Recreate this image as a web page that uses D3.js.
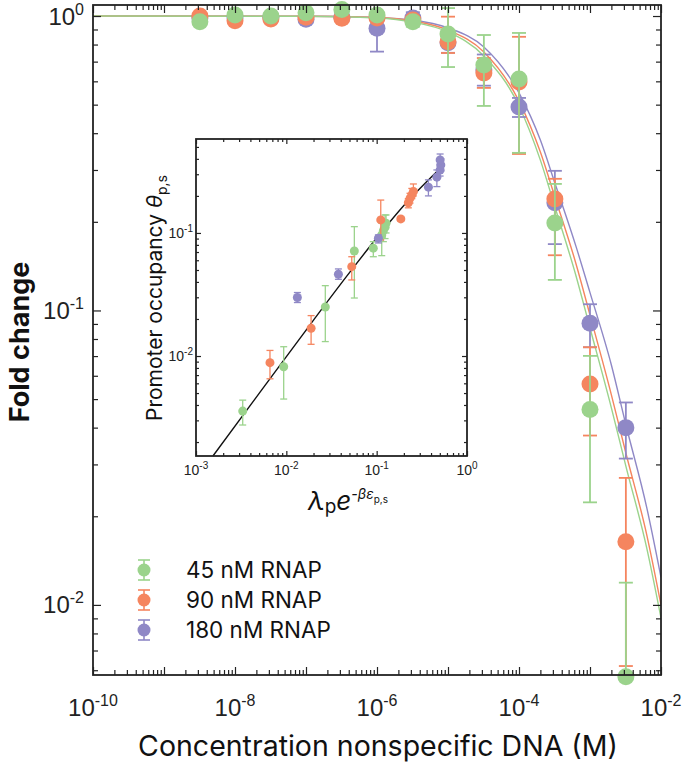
<!DOCTYPE html>
<html>
<head>
<meta charset="utf-8">
<script src="https://cdn.jsdelivr.net/npm/d3@7"></script>
<style>
body { margin: 0; background: #fff; }
svg { display: block; }
.tick line { stroke: #222; stroke-width: 1.2; }
</style>
</head>
<body>
<svg id="chart" width="683" height="766"></svg>
<script>
// ---------- data ----------
var series = ["45 nM RNAP", "90 nM RNAP", "180 nM RNAP"];
var colors = ["#9bd38c", "#f5855f", "#8f88c6"];

// nonspecific DNA concentration (M)
var concentrations = [3.2e-9, 1e-8, 3.2e-8, 1e-7, 3.2e-7, 1e-6, 3.2e-6, 1e-5, 3.2e-5, 1e-4, 3.2e-4, 1e-3, 3.2e-3];

var fold45 = [0.957, 1.008, 1.0, 1.026, 1.053, 1.008, 0.956, 0.869, 0.682, 0.611, 0.198, 0.0461, 0.0057];
var lo45 = [0.93, 0.98, 0.975, 1.0, 1.03, 0.98, 0.92, 0.671, 0.495, 0.343, 0.127, 0.0223, 0.0057];
var hi45 = [0.985, 1.035, 1.025, 1.05, 1.075, 1.035, 0.99, 1.064, 0.862, 0.876, 0.269, 0.0701, 0.0119];

var fold90 = [1.0, 0.964, 0.977, 0.99, 0.982, 0.985, 0.969, 0.818, 0.641, 0.597, 0.239, 0.0563, 0.0164];
var lo90 = [0.975, 0.94, 0.95, 0.965, 0.96, 0.96, 0.94, 0.749, 0.57, 0.34, 0.154, 0.0376, 0.0062];
var hi90 = [1.025, 0.99, 1.0, 1.015, 1.005, 1.01, 1.0, 0.995, 0.72, 0.85, 0.28, 0.075, 0.027];

var fold180 = [0.985, 0.985, 0.99, 0.975, 0.99, 0.908, 0.985, 0.812, 0.656, 0.491, 0.232, 0.0905, 0.0400];
var lo180 = [0.96, 0.96, 0.965, 0.95, 0.965, 0.757, 0.94, 0.75, 0.58, 0.454, 0.168, 0.075, 0.0314];
var hi180 = [1.01, 1.01, 1.015, 1.0, 1.015, 1.0, 1.03, 0.88, 0.74, 0.527, 0.298, 0.105, 0.0487];

// fitted curves, read at these concentrations
var fitConc = [1e-10, 1e-7, 1e-6, 3.2e-6, 1e-5, 3.2e-5, 1e-4, 2e-4, 3.2e-4, 6.3e-4, 1e-3, 2e-3, 3.2e-3, 6.3e-3, 1e-2];
var fit45 = [1.0, 0.998, 0.985, 0.954, 0.883, 0.732, 0.495, 0.324, 0.225, 0.132, 0.0872, 0.0467, 0.0296, 0.0156, 0.00904];
var fit90 = [1.0, 0.998, 0.988, 0.962, 0.896, 0.755, 0.514, 0.345, 0.243, 0.145, 0.0965, 0.0517, 0.0328, 0.0173, 0.0100];
var fit180 = [1.0, 0.998, 0.988, 0.969, 0.911, 0.785, 0.548, 0.379, 0.271, 0.166, 0.115, 0.0653, 0.0409, 0.0214, 0.0124];

// inset: [lambda_p e^-beta eps, occupancy, low, high]
var inset45 = [
    [0.00329, 0.00357, 0.00275, 0.00438],
    [0.00935, 0.00818, 0.00447, 0.0119],
    [0.0270, 0.0250, 0.0131, 0.0373],
    [0.0566, 0.0714, 0.0296, 0.1125],
    [0.0918, 0.0752, 0.0641, 0.085],
    [0.1138, 0.0963, 0.0654, 0.12],
    [0.1186, 0.1044, 0.085, 0.125],
    [0.1239, 0.111, 0.09, 0.14],
    [0.127, 0.12, 0.10, 0.14]
];
var inset90 = [
    [0.00659, 0.00883, 0.00653, 0.0111],
    [0.0188, 0.0168, 0.01245, 0.0213],
    [0.053, 0.0532, 0.0415, 0.0641],
    [0.111, 0.1276, 0.0877, 0.185],
    [0.185, 0.13, 0.125, 0.135],
    [0.224, 0.176, 0.16, 0.19],
    [0.234, 0.191, 0.175, 0.21],
    [0.245, 0.204, 0.19, 0.23],
    [0.255, 0.217, 0.20, 0.25]
];
var inset180 = [
    [0.01325, 0.0299, 0.0272, 0.0328],
    [0.0377, 0.0462, 0.042, 0.051],
    [0.1045, 0.0906, 0.0829, 0.0964],
    [0.374, 0.2355, 0.2, 0.27],
    [0.464, 0.284, 0.238, 0.325],
    [0.504, 0.325, 0.29, 0.36],
    [0.513, 0.357, 0.32, 0.40],
    [0.504, 0.392, 0.35, 0.438]
];
var theoryX = [0.00154, 0.005, 0.02, 0.05, 0.1, 0.2, 0.52];
var theoryY = [0.00154, 0.00497, 0.0196, 0.0476, 0.0909, 0.167, 0.342];

var mainXLabels = [1e-10, 1e-8, 1e-6, 1e-4, 1e-2];
var mainYLabels = [1, 0.1, 0.01];
var insetXLabels = [1e-3, 1e-2, 1e-1, 1];
var insetYLabels = [0.1, 0.01];

// ---------- setup ----------
var svg = d3.select("#chart");
var labelFont = "Inter, 'Noto Sans', sans-serif";
var tickFont = "'Liberation Sans', Arial, sans-serif";

var x = d3.scaleLog().domain([1e-10, 1e-2]).range([93, 661]);
var y = d3.scaleLog().domain([0.00578, 1.09]).range([675, 5]);

var ix = d3.scaleLog().domain([1e-3, 1]).range([196, 467]);
var iy = d3.scaleLog().domain([0.00154, 0.58]).range([456, 139]);

function isMajor(d) {
    var l = Math.log10(d);
    return Math.abs(l - Math.round(l)) < 1e-9;
}

// inward ticks on all four sides, minor + major
function frameTicks(g, xs, ys, minorLen, majorLen) {
    var xt = xs.ticks(), yt = ys.ticks();
    var sets = [
        [xt.filter(function(d) { return !isMajor(d); }), minorLen],
        [xt.filter(isMajor), majorLen]
    ];
    var ysets = [
        [yt.filter(function(d) { return !isMajor(d); }), minorLen],
        [yt.filter(isMajor), majorLen]
    ];
    var x0 = xs.range()[0], x1 = xs.range()[1], y0 = ys.range()[0], y1 = ys.range()[1];
    sets.forEach(function(s) {
        g.append("g").attr("transform", "translate(0," + y0 + ")")
            .call(d3.axisBottom(xs).tickValues(s[0]).tickSize(-s[1]).tickFormat(""))
            .call(function(a) { a.select(".domain").remove(); });
        g.append("g").attr("transform", "translate(0," + y1 + ")")
            .call(d3.axisTop(xs).tickValues(s[0]).tickSize(-s[1]).tickFormat(""))
            .call(function(a) { a.select(".domain").remove(); });
    });
    ysets.forEach(function(s) {
        g.append("g").attr("transform", "translate(" + x0 + ",0)")
            .call(d3.axisLeft(ys).tickValues(s[0]).tickSize(-s[1]).tickFormat(""))
            .call(function(a) { a.select(".domain").remove(); });
        g.append("g").attr("transform", "translate(" + x1 + ",0)")
            .call(d3.axisRight(ys).tickValues(s[0]).tickSize(-s[1]).tickFormat(""))
            .call(function(a) { a.select(".domain").remove(); });
    });
    g.append("rect")
        .attr("x", x0).attr("y", y1)
        .attr("width", x1 - x0).attr("height", y0 - y1)
        .attr("fill", "none")
        .attr("stroke", "#222")
        .attr("stroke-width", 1.8);
}

function powerLabel(sel, d, supSize, rise) {
    var e = Math.round(Math.log10(d));
    sel.append("tspan").text("10");
    sel.append("tspan")
        .attr("dy", -rise)
        .attr("font-size", supSize)
        .text(e === 0 ? "0" : "-" + Math.abs(e));
}

function errorPoints(g, data, xs, ys, color, r, cap, sw) {
    var grp = g.append("g");
    data.forEach(function(p) {
        grp.append("line")
            .attr("x1", xs(p[0])).attr("x2", xs(p[0]))
            .attr("y1", ys(p[2])).attr("y2", ys(p[3]))
            .attr("stroke", color).attr("stroke-width", sw);
        [p[2], p[3]].forEach(function(v) {
            grp.append("line")
                .attr("x1", xs(p[0]) - cap).attr("x2", xs(p[0]) + cap)
                .attr("y1", ys(v)).attr("y2", ys(v))
                .attr("stroke", color).attr("stroke-width", sw);
        });
    });
    grp.selectAll("circle")
        .data(data)
        .enter().append("circle")
        .attr("cx", function(p) { return xs(p[0]); })
        .attr("cy", function(p) { return ys(p[1]); })
        .attr("r", r)
        .attr("fill", color);
}

// ---------- main plot ----------
svg.append("defs").append("clipPath").attr("id", "plotclip")
    .append("rect").attr("x", 93).attr("y", 5).attr("width", 568).attr("height", 670);

var line = d3.line()
    .x(function(d) { return x(d[0]); })
    .y(function(d) { return y(d[1]); })
    .curve(d3.curveMonotoneX);

var fits = [fit45, fit90, fit180];
var curves = svg.append("g").attr("clip-path", "url(#plotclip)");
[2, 1, 0].forEach(function(i) {
    curves.append("path")
        .datum(fitConc.map(function(c, k) { return [c, fits[i][k]]; }))
        .attr("d", line)
        .attr("fill", "none")
        .attr("stroke", colors[i])
        .attr("stroke-width", 1.4);
});

var mainSets = [
    [fold45, lo45, hi45],
    [fold90, lo90, hi90],
    [fold180, lo180, hi180]
];
var pts = svg.append("g");
[2, 1, 0].forEach(function(i) {
    var s = mainSets[i];
    var data = concentrations.map(function(c, k) { return [c, s[0][k], s[1][k], s[2][k]]; });
    errorPoints(pts, data, x, y, colors[i], 8.5, 7, 1.8);
});

frameTicks(svg.append("g"), x, y, 5, 8);

svg.append("g").selectAll("text")
    .data(mainXLabels)
    .enter().append("text")
    .attr("x", function(d) { return x(d); })
    .attr("y", 716)
    .attr("text-anchor", "middle")
    .attr("font-family", tickFont)
    .attr("font-size", 24)
    .attr("fill", "#222")
    .each(function(d) { powerLabel(d3.select(this), d, 16, 10); });

svg.append("g").selectAll("text")
    .data(mainYLabels)
    .enter().append("text")
    .attr("x", 84)
    .attr("y", function(d) { return y(d) + 8.5; })
    .attr("text-anchor", "end")
    .attr("font-family", tickFont)
    .attr("font-size", 24)
    .attr("fill", "#222")
    .each(function(d) { powerLabel(d3.select(this), d, 16, 10); });

svg.append("text")
    .attr("transform", "translate(29,342) rotate(-90)")
    .attr("text-anchor", "middle")
    .attr("font-family", labelFont)
    .attr("font-weight", 700)
    .attr("font-size", 27)
    .attr("fill", "#111")
    .text("Fold change");

svg.append("text")
    .attr("x", 378)
    .attr("y", 756)
    .attr("text-anchor", "middle")
    .attr("font-family", labelFont)
    .attr("font-size", 28.5)
    .attr("fill", "#111")
    .text("Concentration nonspecific DNA (M)");

// legend
var legend = svg.append("g");
series.forEach(function(name, i) {
    var ly = 570 + i * 30;
    legend.append("line")
        .attr("x1", 144).attr("x2", 144).attr("y1", ly - 10).attr("y2", ly + 10)
        .attr("stroke", colors[i]).attr("stroke-width", 1.6);
    [-10, 10].forEach(function(o) {
        legend.append("line")
            .attr("x1", 138).attr("x2", 150).attr("y1", ly + o).attr("y2", ly + o)
            .attr("stroke", colors[i]).attr("stroke-width", 1.6);
    });
    legend.append("circle").attr("cx", 144).attr("cy", ly).attr("r", 6.5).attr("fill", colors[i]);
    legend.append("text")
        .attr("x", 186).attr("y", ly + 8)
        .attr("font-family", labelFont)
        .attr("font-size", 22.5)
        .attr("fill", "#111")
        .text(name);
});

// ---------- inset ----------
var inset = svg.append("g");
inset.append("rect")
    .attr("x", 196).attr("y", 139).attr("width", 271).attr("height", 317)
    .attr("fill", "#fff");

var iline = d3.line()
    .x(function(d) { return ix(d[0]); })
    .y(function(d) { return iy(d[1]); })
    .curve(d3.curveMonotoneX);

inset.append("path")
    .datum(theoryX.map(function(v, k) { return [v, theoryY[k]]; }))
    .attr("d", iline)
    .attr("fill", "none")
    .attr("stroke", "#111")
    .attr("stroke-width", 1.4);

var insetSets = [inset45, inset90, inset180];
[0, 1, 2].forEach(function(i) {
    errorPoints(inset, insetSets[i], ix, iy, colors[i], 4.5, 3.5, 1.3);
});

frameTicks(inset.append("g"), ix, iy, 3, 5);

inset.append("g").selectAll("text")
    .data(insetXLabels)
    .enter().append("text")
    .attr("x", function(d) { return ix(d); })
    .attr("y", 475)
    .attr("text-anchor", "middle")
    .attr("font-family", tickFont)
    .attr("font-size", 14)
    .attr("fill", "#222")
    .each(function(d) { powerLabel(d3.select(this), d, 10, 6); });

inset.append("g").selectAll("text")
    .data(insetYLabels)
    .enter().append("text")
    .attr("x", 193)
    .attr("y", function(d) { return iy(d) + 5; })
    .attr("text-anchor", "end")
    .attr("font-family", tickFont)
    .attr("font-size", 14)
    .attr("fill", "#222")
    .each(function(d) { powerLabel(d3.select(this), d, 10, 6); });

var ytitle = inset.append("text")
    .attr("transform", "translate(162,298) rotate(-90)")
    .attr("text-anchor", "middle")
    .attr("font-family", labelFont)
    .attr("font-size", 21)
    .attr("fill", "#111");
ytitle.append("tspan").text("Promoter occupancy ");
ytitle.append("tspan").attr("font-style", "italic").text("\u03b8");
ytitle.append("tspan").attr("font-size", 14).attr("dy", 5).text("p,s");

var xtitle = inset.append("text")
    .attr("x", 348)
    .attr("y", 510)
    .attr("text-anchor", "middle")
    .attr("font-family", labelFont)
    .attr("fill", "#111");
xtitle.append("tspan").attr("font-size", 26).attr("font-style", "italic").text("\u03bb");
xtitle.append("tspan").attr("font-size", 19).attr("dy", 3).text("p");
xtitle.append("tspan").attr("font-size", 26).attr("font-style", "italic").attr("dy", -3).text("e");
xtitle.append("tspan").attr("font-size", 14).attr("font-style", "italic").attr("dy", -11).text("-\u03b2\u03b5");
xtitle.append("tspan").attr("font-size", 10).attr("dy", 4).text("p,s");
</script>
</body>
</html>
